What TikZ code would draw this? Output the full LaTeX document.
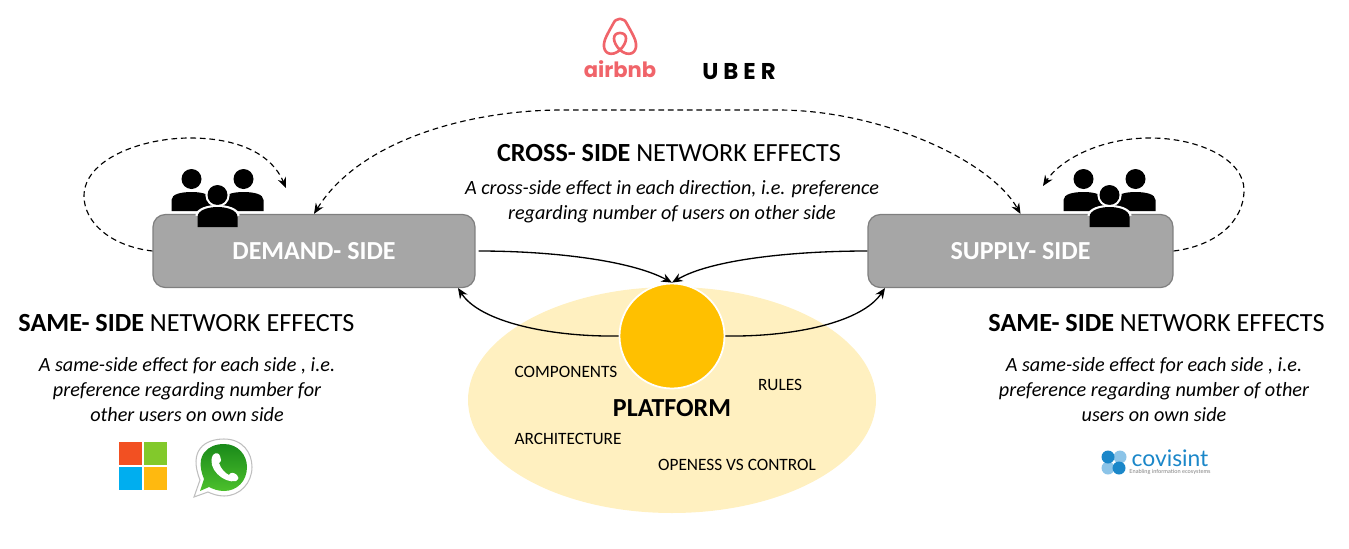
\documentclass[tikz,border=0pt]{standalone}
\usepackage{fontspec}
\setmainfont{Carlito}
\newfontfamily\logofont{Poppins}
\newfontfamily\uberfont[LetterSpace=22]{Poppins}
\newfontfamily\covfont{Lato}
\usepackage{xcolor}
\usetikzlibrary{positioning,calc,arrows.meta}
\definecolor{boxgray}{HTML}{A6A6A6}
\definecolor{boxedge}{HTML}{7F7F7F}
\definecolor{platgold}{HTML}{FFC000}
\definecolor{platpale}{HTML}{FFF0C0}
\definecolor{belo}{HTML}{F0646A}
\definecolor{watop}{HTML}{1A8A1A}
\definecolor{wabottom}{HTML}{4CC02C}
\definecolor{covblue}{HTML}{1B87C9}
\definecolor{covpale}{HTML}{8CC4E8}
\definecolor{msred}{HTML}{F25022}
\definecolor{msgreen}{HTML}{82C92B}
\definecolor{msblue}{HTML}{00AEEF}
\definecolor{msyellow}{HTML}{FFB90F}
\tikzset{
    sidebox/.style={draw=boxedge, fill=boxgray, line width=0.7pt, rounded corners=7pt, inner sep=0pt, text=white, font=\fontsize{14.8}{16}\selectfont\bfseries},
    headline/.style={font=\fontsize{14.9}{16}\selectfont, inner sep=0pt},
    effecttext/.style={font=\fontsize{11.5}{14.2}\selectfont\itshape, align=center, inner sep=0pt},
    platlabel/.style={font=\fontsize{9.85}{12}\selectfont, inner sep=0pt},
    effect/.style={dashed, line width=0.65pt, dash pattern=on 3.2pt off 2.2pt, ->},
    link/.style={line width=0.75pt, ->},
    people/.pic={
        \fill (-26,-16) circle[radius=10];
        \fill (26,-16) circle[radius=10];
        \fill (-46,16) -- (-46,5) .. controls (-46,-1) and (-36,-3) .. (-26,-3) .. controls (-16,-3) and (-6,-1) .. (0,8) -- (0,16) -- cycle;
        \fill (46,16) -- (46,5) .. controls (46,-1) and (36,-3) .. (26,-3) .. controls (16,-3) and (6,-1) .. (0,8) -- (0,16) -- cycle;
        \draw[white, line width=2.4pt] (0,0) circle[radius=10];
        \fill (0,0) circle[radius=10];
        \draw[white, line width=2.4pt] (-20,21) .. controls (-20,15) and (-9,12) .. (0,12) .. controls (9,12) and (20,15) .. (20,21);
        \fill (-20,32) -- (-20,22) .. controls (-20,15) and (-9,12) .. (0,12) .. controls (9,12) and (20,15) .. (20,22) -- (20,32) -- cycle;
    }
}
\begin{document}
\begin{tikzpicture}[x=0.02cm, y=-0.02cm, >={Stealth[length=6pt,width=5pt]}]
    \useasboundingbox (0,0) rectangle (1349,548);

    % Platform
    \fill[platpale] (672,400) ellipse[x radius=204, y radius=113];
    \node[circle, fill=platgold, draw=white, line width=1pt, minimum size=2.1cm, inner sep=0pt] (hub) at (672,336) {};
    \node[inner sep=0pt, font=\fontsize{14.8}{17}\selectfont\bfseries] (platform) at (672,408) {PLATFORM};
    \node[platlabel] (components) at (566,372) {COMPONENTS};
    \node[platlabel] (rules) at (780,385) {RULES};
    \node[platlabel] (architecture) at (568,439) {ARCHITECTURE};
    \node[platlabel] (openess) at (737,465) {OPENESS VS CONTROL};

    % Sides
    \node[sidebox, minimum width=6.44cm, minimum height=1.46cm] (demand) at (314,251) {DEMAND- SIDE};
    \node[sidebox, minimum width=6.1cm, minimum height=1.46cm] (supply) at (1020.5,251) {SUPPLY- SIDE};
    \pic at (217.5,195) {people};
    \pic at (1109.5,195) {people};

    % Free ends
    \coordinate (demandtop) at (286,188);
    \coordinate (supplytop) at (1043,186);
    \coordinate (demandin) at (458,288);
    \coordinate (supplyin) at (885,288);

    % Same-side and cross-side effects
    \draw[effect] (demand.west) .. controls (110,246) and (84,222) .. (84,196) .. controls (84,160) and (140,138) .. (190,138) .. controls (240,138) and (272,155) .. (demandtop);
    \draw[effect] (supply.east) .. controls (1215,246) and (1244,222) .. (1244,190) .. controls (1244,160) and (1200,138) .. (1150,138) .. controls (1100,138) and (1060,160) .. (supplytop);
    \draw[effect, <->] (demand.north) .. controls (360,140) and (470,110) .. (562,110) -- (778,110) .. controls (880,110) and (990,160) .. (supply.north);

    % Platform links
    \draw[link] ($(demand.east)+(3,0)$) .. controls (550,251) and (630,260) .. (hub.north);
    \draw[link] (supply.west) .. controls (790,251) and (710,260) .. (hub.north);
    \draw[link] (hub.west) .. controls (550,337) and (480,322) .. (demandin);
    \draw[link] (hub.east) .. controls (795,337) and (862,322) .. (supplyin);

    % Texts
    \node[headline] (crosshead) at (669,153) {\textbf{CROSS- SIDE} NETWORK EFFECTS};
    \node[effecttext] (crosstext) at (672,201.5) {A cross-side effect in each direction, i.e. preference\\regarding number of users on other side};
    \node[headline] (samelefthead) at (186.5,323) {\textbf{SAME- SIDE} NETWORK EFFECTS};
    \node[effecttext] (samelefttext) at (187,390) {A same-side effect for each side , i.e.\\preference regarding number for\\other users on own side};
    \node[headline] (samerighthead) at (1156.5,323) {\textbf{SAME- SIDE} NETWORK EFFECTS};
    \node[effecttext] (samerighttext) at (1154,390) {A same-side effect for each side , i.e.\\preference regarding number of other\\users on own side};

    % Logo top
    \draw[belo, line width=1.5pt, line join=round] (620,50) .. controls (612,57) and (603,54) .. (604,44) .. controls (604,40) and (608,33) .. (613,24) .. controls (616,17) and (624,17) .. (627,24) .. controls (632,33) and (636,40) .. (636,44) .. controls (637,54) and (628,57) .. (620,50) .. controls (612,42) and (612,33) .. (620,33) .. controls (628,33) and (628,42) .. (620,50) -- cycle;
    \node[inner sep=0pt, text=belo, font=\logofont\fontsize{12}{14}\selectfont\bfseries] (airbnb) at (620,69) {airbnb};
    \node[inner sep=0pt, font=\uberfont\fontsize{13}{15}\selectfont\bfseries] (uber) at (739,72) {UBER};

    % Logo left
    \fill[msred] (119,442) rectangle (142,465);
    \fill[msgreen] (144,442) rectangle (167,465);
    \fill[msblue] (119,467) rectangle (142,490);
    \fill[msyellow] (144,467) rectangle (167,490);
    \draw[fill=white, draw=black!25, line width=0.6pt] (194,497) -- (200,480) .. controls (188,450) and (205,439) .. (224,439) .. controls (243,439) and (252,453) .. (252,467) .. controls (252,483) and (240,496) .. (224,496) .. controls (218,496) and (212,494) .. (208,492) -- cycle;
    \shade[top color=watop, bottom color=wabottom] (200,491) -- (204,479) .. controls (194,455) and (208,444) .. (224,444) .. controls (238,444) and (247,455) .. (247,467) .. controls (247,481) and (237,491) .. (224,491) .. controls (218,491) and (213,489) .. (209,487) -- cycle;
    \fill[white] (213,455) .. controls (216,452) and (219,453) .. (220,456) .. controls (221,459) and (222,461) .. (219,463) .. controls (221,469) and (225,473) .. (229,475) .. controls (231,472) and (233,472) .. (237,475) .. controls (239,477) and (239,479) .. (236,481) .. controls (224,484) and (206,468) .. (213,455) -- cycle;

    % Logo right
    \fill[covpale] (1120,457) circle[radius=6.5];
    \fill[covpale] (1108,468) circle[radius=6.5];
    \fill[covblue] (1108,457) circle[radius=6.5];
    \fill[covblue] (1119,468) circle[radius=6.5];
    \node[inner sep=0pt, text=covblue, font=\covfont\fontsize{13}{15}\selectfont] (covisint) at (1170,458) {covisint};
    \node[inner sep=0pt, text=black!50, font=\covfont\fontsize{3.2}{4}\selectfont] (covtag) at (1170,472) {Enabling information ecosystems};
\end{tikzpicture}
\end{document}
